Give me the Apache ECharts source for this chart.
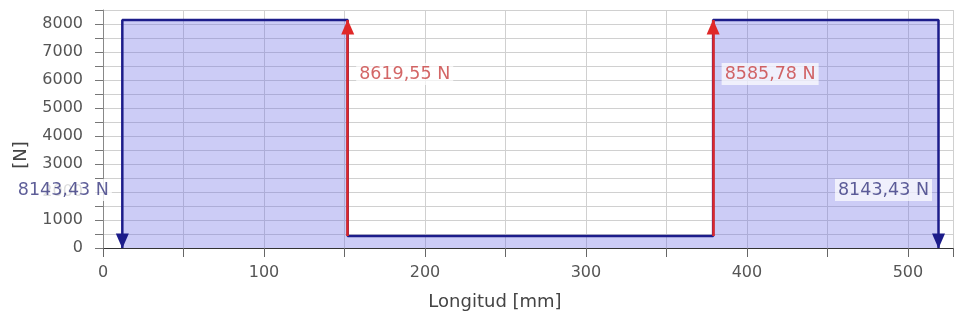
<!DOCTYPE html>
<html>
<head>
<meta charset="utf-8">
<style>
  html, body { margin: 0; padding: 0; background: #ffffff; }
  #chart { width: 956px; height: 320px; }
</style>
<script src="https://cdn.jsdelivr.net/npm/echarts@6/dist/echarts.min.js"></script>
</head>
<body>
<div id="chart"></div>
<script>
// Beam support positions along the length [mm]
const supportPositions = [12, 152, 379, 519];
// Shear level between consecutive positions [N]
const shearLevels = [8143.43, 430, 8143.43];
// Point forces at each position [N] (negative = downward)
const pointForces = [-8143.43, 8619.55, 8585.78, -8143.43];
// Axis tick label values
const xTickLabels = [0, 100, 200, 300, 400, 500];
const yTickLabels = [0, 1000, 2000, 3000, 4000, 5000, 6000, 7000, 8000];

const FONT = 'DejaVu Sans';
const NAVY = '#1c1c8a';
const RED = '#e02828';

// Outline of the shear diagram (stepped polygon)
const outline = [[supportPositions[0], 0]];
for (let i = 0; i < shearLevels.length; i++) {
  outline.push([supportPositions[i], shearLevels[i]]);
  outline.push([supportPositions[i + 1], shearLevels[i]]);
}
outline.push([supportPositions[supportPositions.length - 1], 0]);

// Upward force shafts (red), arrow tips and value labels
const upShafts = [];
const upTips = [];
const downTips = [];
const forceLabels = [];
pointForces.forEach((f, i) => {
  const x = supportPositions[i];
  const before = i > 0 ? shearLevels[i - 1] : 0;
  const after = i < shearLevels.length ? shearLevels[i] : 0;
  if (f > 0) {
    const lo = Math.min(before, after), hi = Math.max(before, after);
    upShafts.push({ coords: [[x, lo], [x, hi]] });
    upTips.push([x, hi]);
    forceLabels.push({
      value: [x, hi, f],
      label: { position: 'right', distance: 8, offset: [0, 54], color: '#c84040' }
    });
  } else {
    const first = i === 0;
    downTips.push([x, 0]);
    forceLabels.push({
      value: [x, 0, f],
      label: {
        position: 'left', distance: first ? 10 : 6, offset: [0, -58], color: '#36367e',
        backgroundColor: first ? '#ffffff' : 'rgba(255,255,255,0.88)'
      }
    });
  }
});

const chart = echarts.init(document.getElementById('chart'), null, { renderer: 'canvas' });

chart.setOption({
  animation: false,
  backgroundColor: '#ffffff',
  textStyle: { fontFamily: FONT },
  grid: { left: 103, top: 10, right: 0, bottom: 72, containLabel: false },
  xAxis: {
    type: 'value',
    min: 0,
    max: 528,
    interval: 50,
    axisLine: { show: true, onZero: false, lineStyle: { color: '#333333', width: 1 } },
    axisTick: { show: true, length: 9, lineStyle: { color: '#666666' } },
    axisLabel: {
      margin: 17,
      fontSize: 16,
      fontFamily: FONT,
      color: '#555555',
      formatter: v => (xTickLabels.indexOf(v) >= 0 ? String(v) : '')
    },
    splitLine: { show: true, lineStyle: { color: '#d0d0d0', width: 1 } }
  },
  yAxis: {
    type: 'value',
    min: 0,
    max: 8500,
    interval: 500,
    axisLine: { show: true, onZero: false, lineStyle: { color: '#888888', width: 1 } },
    axisTick: { show: true, length: 8, lineStyle: { color: '#777777' } },
    axisLabel: {
      margin: 20,
      fontSize: 16,
      fontFamily: FONT,
      color: '#555555',
      formatter: v => (yTickLabels.indexOf(v) >= 0 ? String(v) : '')
    },
    splitLine: { show: true, lineStyle: { color: '#d0d0d0', width: 1 } }
  },
  graphic: [
    {
      type: 'text',
      x: 21, y: 155,
      rotation: Math.PI / 2,
      style: {
        text: '[N]', fill: '#444444', font: '18px "DejaVu Sans"',
        textAlign: 'center', textVerticalAlign: 'middle'
      }
    },
    {
      type: 'text',
      x: 495, y: 302,
      style: {
        text: 'Longitud [mm]', fill: '#444444', font: '18px "DejaVu Sans"',
        textAlign: 'center', textVerticalAlign: 'middle'
      }
    }
  ],
  series: [
    {
      name: 'Cortante',
      type: 'line',
      data: outline,
      showSymbol: false,
      symbol: 'none',
      lineStyle: { color: NAVY, width: 2.5 },
      areaStyle: { color: 'rgba(110,110,230,0.5)', origin: 'start' },
      z: 2
    },
    {
      name: 'Reacciones',
      type: 'lines',
      coordinateSystem: 'cartesian2d',
      data: upShafts,
      lineStyle: { color: RED, width: 2.5, opacity: 1 },
      symbol: ['none', 'none'],
      z: 3
    },
    {
      name: 'Puntas arriba',
      type: 'scatter',
      data: upTips,
      symbol: 'triangle',
      symbolSize: [13, 15],
      symbolOffset: [0, 7],
      itemStyle: { color: RED, opacity: 1 },
      z: 4
    },
    {
      name: 'Puntas abajo',
      type: 'scatter',
      data: downTips,
      symbol: 'triangle',
      symbolRotate: 180,
      symbolSize: [13, 15],
      symbolOffset: [0, -7],
      itemStyle: { color: NAVY, opacity: 1 },
      z: 4
    },
    {
      name: 'Etiquetas',
      type: 'scatter',
      data: forceLabels,
      symbol: 'circle',
      symbolSize: 1,
      itemStyle: { color: 'rgba(0,0,0,0)' },
      label: {
        show: true,
        fontFamily: FONT,
        fontSize: 17.5,
        backgroundColor: 'rgba(255,255,255,0.88)',
        padding: [2, 3],
        formatter: p => Math.abs(p.value[2]).toFixed(2).replace('.', ',') + ' N'
      },
      z: 10
    }
  ]
});
</script>
</body>
</html>
